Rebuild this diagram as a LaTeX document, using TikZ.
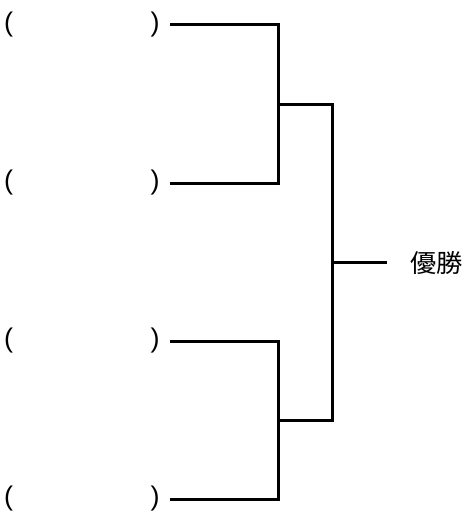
\documentclass[tikz,border=0pt]{standalone}
\usepackage{fontspec}
\setmainfont{Noto Sans CJK JP}
\newfontfamily\parenfont{Liberation Sans}

\begin{document}
\begin{tikzpicture}[x=1pt,y=-1pt,
  paren/.style={inner sep=0pt,font=\parenfont\fontsize{27}{27}\selectfont},
  title/.style={inner sep=0pt,font=\fontsize{25}{25}\selectfont},
  bar/.style={line width=3pt}]
  \useasboundingbox (0,0) rectangle (467,511);
  % entries
  \node[paren] (l1) at (8.5,25) {(};
  \node[paren] (r1) at (155,25) {)};
  \node[paren] (l2) at (8.5,183) {(};
  \node[paren] (r2) at (155,183) {)};
  \node[paren] (l3) at (8.5,341) {(};
  \node[paren] (r3) at (155,341) {)};
  \node[paren] (l4) at (8.5,499) {(};
  \node[paren] (r4) at (155,499) {)};
  \coordinate (s1) at (170,25);
  \coordinate (s2) at (170,183);
  \coordinate (s3) at (170,341);
  \coordinate (s4) at (170,499);
  % junctions
  \coordinate (a1) at (278,104);
  \coordinate (a2) at (278,420);
  \coordinate (w) at (332,262);
  \coordinate (e) at (387,262);
  \node[title,anchor=west] (win) at (410,263) {\scalebox{1.05}[1]{優勝}};
  \draw[bar] (s1) -| (a1) |- (s2);
  \draw[bar] (s3) -| (a2) |- (s4);
  \draw[bar] (a1) -| (w) |- (a2);
  \draw[bar] (w) -- (e);
\end{tikzpicture}
\end{document}
